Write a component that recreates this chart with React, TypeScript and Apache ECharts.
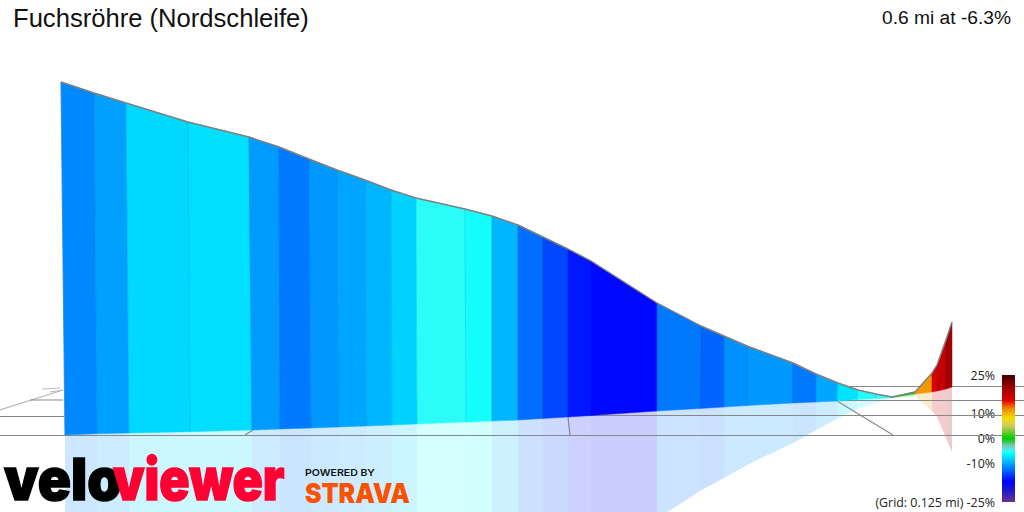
import * as echarts from 'echarts';
import { useEffect, useRef } from 'react';

const titleText = 'Fuchsröhre (Nordschleife)';
const summaryText = '0.6 mi at -6.3%';
const gridNote = '(Grid: 0.125 mi)';

// profile, in screen-like units
const topX = [61, 94, 126, 188, 249, 279, 309, 337, 365, 391, 416, 465, 492, 518, 543, 568, 591, 657, 701, 724, 747, 793, 816, 838, 858, 876, 892, 915, 932, 937, 946, 952];
const topY = [82, 93, 103, 122, 137, 147, 159, 170, 180, 190, 198, 209, 216, 225, 237, 249, 261, 303, 326, 336, 346, 363, 374, 383, 390, 394, 397, 392, 373, 365, 340, 322];
const baseX = [65, 97, 129, 190, 252, 280, 311, 338, 366, 392, 417, 466, 492, 518, 543, 568, 591, 657, 700, 724, 747, 793, 816, 837, 857, 876, 892, 915, 932, 937, 946, 952];
const baseY = [435, 433.7, 433, 431.7, 430, 429, 428, 427, 426, 425, 424, 422, 421, 420, 418.5, 417, 415.5, 411, 408.5, 407, 405.5, 403, 402, 401, 399.5, 398.5, 397.5, 394, 392, 391, 389, 387];
const grades = [-11.1, -10.1, -7.7, -7.4, -10.3, -11.7, -10.5, -9.9, -9.2, -7.9, -5.1, -5.6, -9.1, -12.2, -13.9, -16, -16.7, -11.8, -12.7, -10.8, -10.5, -11.7, -9.8, -7.2, -5.3, -4.8, -0.5, 11, 15, 17, 20];

const scaleGrades = [25, 20, 15, 12, 8, 5, 0, -3, -5, -6, -17, -21, -25];
const scaleColors = ['#400000', '#a00000', '#e00000', '#f08000', '#f0e000', '#d8c860', '#00cc00', '#80c8c0', '#30fcf8', '#00ffff', '#0000ff', '#2020c0', '#703090'];
const scaleLabels = [25, 10, 0, -10, -25];

const gridLines = [
  [0, 410, 63, 390],
  [42, 389, 60, 388],
  [50, 392, 63, 390],
  [61, 82, 65, 435],
  [30, 400, 63, 400],
  [0, 416.5, 64, 416.5],
  [0, 435.5, 1024, 435.5],
  [245, 435, 253, 430],
  [568, 417, 570, 435],
  [570, 415.5, 1024, 415.5],
  [837, 401, 893, 435],
  [837, 400.5, 1024, 400.5],
  [848, 386.5, 1024, 386.5]
];

const gradeColor = (grade: number) => {
  for (let i = 1; i < scaleGrades.length; i++) {
    if (grade >= scaleGrades[i]) {
      const t = (scaleGrades[i - 1] - grade) / (scaleGrades[i - 1] - scaleGrades[i]);
      return echarts.color.lerp(t, [scaleColors[i - 1], scaleColors[i]]) as string;
    }
  }
  return scaleColors[scaleColors.length - 1];
};

const segments = grades.map((grade, i) => [topX[i], topY[i], topX[i + 1], topY[i + 1], baseX[i], baseY[i], baseX[i + 1], baseY[i + 1], grade]);

const App = () => {
  const chartRef = useRef<HTMLDivElement | null>(null);

  useEffect(() => {
    if (!chartRef.current) return;
    const chart = echarts.init(chartRef.current, undefined, { renderer: 'svg' });

    const renderReflection = (params: any, api: any) => {
      const v = (i: number) => api.value(i);
      const mirror = (x: number, base: number, top: number) => api.coord([x, 2 * base - top]);
      return {
        type: 'polygon',
        shape: {
          points: [
            api.coord([v(4), v(5)]),
            api.coord([v(6), v(7)]),
            mirror(v(6), v(7), v(3)),
            mirror(v(4), v(5), v(1))
          ]
        },
        style: { fill: echarts.color.modifyAlpha(gradeColor(v(8)), 0.2) }
      };
    };

    const renderSegment = (params: any, api: any) => {
      const v = (i: number) => api.value(i);
      const color = gradeColor(v(8));
      const a = api.coord([v(0), v(1)]);
      const b = api.coord([v(2), v(3)]);
      const c = api.coord([v(6), v(7)]);
      const d = api.coord([v(4), v(5)]);
      const children: any[] = [
        { type: 'polygon', shape: { points: [a, b, c, d] }, style: { fill: color, stroke: color, lineWidth: 0.5 } }
      ];
      if (params.dataIndex > 0) {
        children.push({
          type: 'line',
          shape: { x1: a[0], y1: a[1], x2: d[0], y2: d[1] },
          style: { stroke: 'rgba(0,50,90,0.14)', lineWidth: 1 }
        });
      }
      return { type: 'group', children };
    };

    const renderGridLine = (params: any, api: any) => {
      const p = api.coord([api.value(0), api.value(1)]);
      const q = api.coord([api.value(2), api.value(3)]);
      return {
        type: 'line',
        shape: { x1: p[0], y1: p[1], x2: q[0], y2: q[1] },
        style: { stroke: params.dataIndex < 4 ? '#b8b8b8' : '#888888', lineWidth: 1.2 }
      };
    };

    const renderScale = (params: any, api: any) => {
      const p = api.coord([0, api.value(1)]);
      const q = api.coord([1, api.value(0)]);
      const stops = scaleGrades.map((g, i) => ({ offset: (25 - g) / 50, color: scaleColors[i] }));
      return {
        type: 'rect',
        shape: { x: p[0], y: p[1], width: q[0] - p[0], height: q[1] - p[1] },
        style: { fill: new echarts.graphic.LinearGradient(0, 0, 0, 1, stops) }
      };
    };

    const option: any = {
      animation: false,
      backgroundColor: '#ffffff',
      title: [
        {
          text: titleText,
          left: 8,
          top: 0,
          textStyle: { fontFamily: 'Liberation Sans', fontSize: 25.6, fontWeight: 'normal', color: '#111111' }
        },
        {
          text: summaryText,
          right: 8,
          top: 3,
          textStyle: { fontFamily: 'Liberation Sans', fontSize: 19.2, fontWeight: 'normal', color: '#111111' }
        }
      ],
      grid: [
        { left: 0, top: 0, width: 1024, height: 512 },
        { left: 1002, top: 375, width: 13, height: 127 }
      ],
      xAxis: [
        { type: 'value', gridIndex: 0, min: 0, max: 1024, show: false },
        { type: 'value', gridIndex: 1, min: 0, max: 1, show: false }
      ],
      yAxis: [
        { type: 'value', gridIndex: 0, min: 0, max: 512, inverse: true, show: false },
        {
          type: 'value',
          gridIndex: 1,
          min: -25,
          max: 25,
          axisLine: { show: false },
          axisTick: { show: false },
          splitLine: { show: false },
          axisLabel: {
            customValues: scaleLabels,
            margin: 7,
            fontFamily: 'Open Sans',
            fontSize: 12.4,
            color: '#222222',
            formatter: (val: number) => (val === -25 ? `${gridNote} ${val}%` : `${val}%`)
          }
        }
      ],
      series: [
        { type: 'custom', z: 1, renderItem: renderReflection, data: segments, clip: true },
        { type: 'custom', z: 2, renderItem: renderGridLine, data: gridLines },
        { type: 'custom', z: 3, renderItem: renderSegment, data: segments },
        {
          type: 'line',
          z: 4,
          data: topX.map((x, i) => [x, topY[i]]),
          showSymbol: false,
          lineStyle: { color: '#808080', width: 1.4 }
        },
        {
          type: 'custom',
          z: 5,
          xAxisIndex: 1,
          yAxisIndex: 1,
          renderItem: renderScale,
          data: [[-25, 25]]
        }
      ],
      graphic: [
        {
          type: 'text',
          x: 4,
          y: 450,
          scaleX: 1.37,
          scaleY: 1.45,
          z: 10,
          style: { text: 'velo', fontFamily: 'Inter', fontWeight: 900, fontSize: 40, fill: '#000000', stroke: '#000000', lineWidth: 1 }
        },
        {
          type: 'text',
          x: 113,
          y: 450,
          scaleX: 1.25,
          scaleY: 1.45,
          z: 10,
          style: { text: 'viewer', fontFamily: 'Inter', fontWeight: 900, fontSize: 40, fill: '#ff0033', stroke: '#ff0033', lineWidth: 1 }
        },
        {
          type: 'text',
          x: 305,
          y: 467,
          scaleX: 1.1,
          z: 10,
          style: { text: 'POWERED BY', fontFamily: 'Inter', fontWeight: 600, fontSize: 9.6, fill: '#111111' }
        },
        {
          type: 'text',
          x: 305,
          y: 480,
          scaleX: 0.92,
          z: 10,
          style: { text: 'STRAVA', fontFamily: 'Inter', fontWeight: 900, fontSize: 27, fill: '#fc5200' }
        }
      ]
    };

    chart.setOption(option);
    return () => {
      chart.dispose();
    };
  }, []);

  return <div ref={chartRef} style={{ position: 'fixed', left: 0, top: 0, width: 1024, height: 512 }} />;
};

export default App;
